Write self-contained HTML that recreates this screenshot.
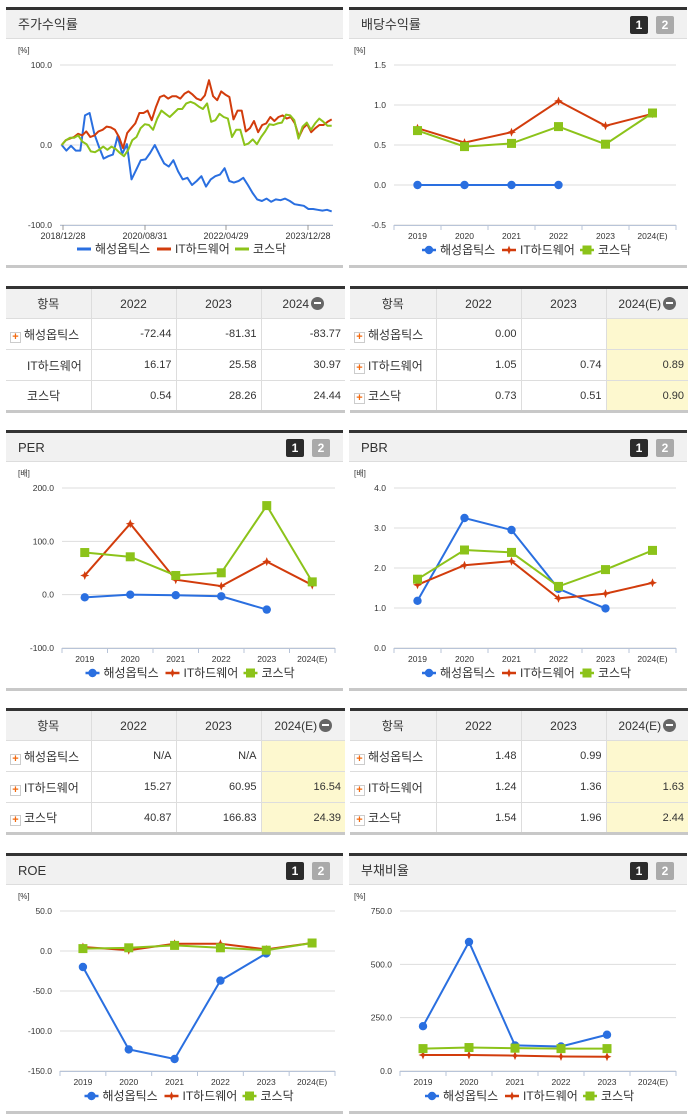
<!DOCTYPE html>
<html><head><meta charset="utf-8">
<style>
*{margin:0;padding:0;box-sizing:border-box}
body{width:691px;height:1115px;background:#fff;position:relative;font-family:"Liberation Sans","Noto Sans CJK KR",sans-serif;color:#333;overflow:hidden}
.panel{position:absolute;border-top:3px solid #333;border-bottom:3px solid #c8c8c8}
.phead{height:29px;background:#f1f1f1;border-bottom:1px solid #ddd;font-size:13px;line-height:29px;padding-left:12px;position:relative}
.btn{position:absolute;top:6px;width:18px;height:18px;font-size:12px;font-weight:bold;color:#fff;text-align:center;line-height:18px;border-radius:2px}
.b1{background:#2b2b2b}.b2{background:#aaa}
table{position:absolute;border-collapse:collapse;border-top:3px solid #333;border-bottom:3px solid #c8c8c8;font-size:11px;table-layout:fixed}
td,th{height:31px;border-bottom:1px solid #ddd;border-left:1px solid #ddd;font-weight:normal}
th{background:#f1f1f1;font-size:12px;text-align:center}
td{text-align:right;padding-right:4px}
td:first-child,th:first-child{border-left:none}
td.nm{text-align:left;padding-left:4px;font-size:12px}
td.hl{background:#fdf8cf}
.plus{display:inline-block;width:11px;height:11px;border:1px solid #ccc;background:#fff;color:#f26a10;font-size:11px;line-height:9px;text-align:center;font-weight:bold;margin-right:3px;vertical-align:-1px}
.sp{display:inline-block;width:17px}
.minus{display:inline-block;width:13px;height:13px;border-radius:50%;background:#666;vertical-align:-2px;position:relative;margin-left:2px}
.minus:after{content:"";position:absolute;left:3px;top:5px;width:7px;height:2px;background:#fff}
svg{position:absolute;left:0;top:0}
</style></head><body>

<div class="panel" style="left:6px;top:7px;width:337px;height:261px"><div class="phead">주가수익률</div></div>
<div class="panel" style="left:349px;top:7px;width:338px;height:261px"><div class="phead">배당수익률<span class="btn b1" style="left:281px">1</span><span class="btn b2" style="left:307px">2</span></div></div>

<div class="panel" style="left:6px;top:430px;width:337px;height:261px"><div class="phead">PER<span class="btn b1" style="left:280px">1</span><span class="btn b2" style="left:306px">2</span></div></div>
<div class="panel" style="left:349px;top:430px;width:338px;height:261px"><div class="phead">PBR<span class="btn b1" style="left:281px">1</span><span class="btn b2" style="left:307px">2</span></div></div>

<div class="panel" style="left:6px;top:853px;width:337px;height:261px"><div class="phead">ROE<span class="btn b1" style="left:280px">1</span><span class="btn b2" style="left:306px">2</span></div></div>
<div class="panel" style="left:349px;top:853px;width:338px;height:261px"><div class="phead">부채비율<span class="btn b1" style="left:281px">1</span><span class="btn b2" style="left:307px">2</span></div></div>

<table style="left:6px;top:286px;width:339px">
<colgroup><col style="width:85px"><col style="width:85px"><col style="width:85px"><col style="width:84px"></colgroup>
<tr><th>항목</th><th>2022</th><th>2023</th><th>2024<span class="minus"></span></th></tr>
<tr><td class="nm"><span class="plus">+</span>해성옵틱스</td><td>-72.44</td><td>-81.31</td><td>-83.77</td></tr>
<tr><td class="nm"><span class="sp"></span>IT하드웨어</td><td>16.17</td><td>25.58</td><td>30.97</td></tr>
<tr><td class="nm"><span class="sp"></span>코스닥</td><td>0.54</td><td>28.26</td><td>24.44</td></tr>
</table>
<table style="left:350px;top:286px;width:338px">
<colgroup><col style="width:86px"><col style="width:85px"><col style="width:85px"><col style="width:82px"></colgroup>
<tr><th>항목</th><th>2022</th><th>2023</th><th>2024(E)<span class="minus"></span></th></tr>
<tr><td class="nm"><span class="plus">+</span>해성옵틱스</td><td>0.00</td><td></td><td class="hl"></td></tr>
<tr><td class="nm"><span class="plus">+</span>IT하드웨어</td><td>1.05</td><td>0.74</td><td class="hl">0.89</td></tr>
<tr><td class="nm"><span class="plus">+</span>코스닥</td><td>0.73</td><td>0.51</td><td class="hl">0.90</td></tr>
</table>

<table style="left:6px;top:708px;width:339px">
<colgroup><col style="width:85px"><col style="width:85px"><col style="width:85px"><col style="width:84px"></colgroup>
<tr><th>항목</th><th>2022</th><th>2023</th><th>2024(E)<span class="minus"></span></th></tr>
<tr><td class="nm"><span class="plus">+</span>해성옵틱스</td><td>N/A</td><td>N/A</td><td class="hl"></td></tr>
<tr><td class="nm"><span class="plus">+</span>IT하드웨어</td><td>15.27</td><td>60.95</td><td class="hl">16.54</td></tr>
<tr><td class="nm"><span class="plus">+</span>코스닥</td><td>40.87</td><td>166.83</td><td class="hl">24.39</td></tr>
</table>
<table style="left:350px;top:708px;width:338px">
<colgroup><col style="width:86px"><col style="width:85px"><col style="width:85px"><col style="width:82px"></colgroup>
<tr><th>항목</th><th>2022</th><th>2023</th><th>2024(E)<span class="minus"></span></th></tr>
<tr><td class="nm"><span class="plus">+</span>해성옵틱스</td><td>1.48</td><td>0.99</td><td class="hl"></td></tr>
<tr><td class="nm"><span class="plus">+</span>IT하드웨어</td><td>1.24</td><td>1.36</td><td class="hl">1.63</td></tr>
<tr><td class="nm"><span class="plus">+</span>코스닥</td><td>1.54</td><td>1.96</td><td class="hl">2.44</td></tr>
</table>

<svg id="chart" width="691" height="1115"></svg>

<script>
// ---------- data ----------
const seriesNames = ["해성옵틱스","IT하드웨어","코스닥"];
const stockDates = ["2018/12/28","2020/08/31","2022/04/29","2023/12/28"];
const stockBlue = [0,-7,-1,-7,-7,37,40,14,-2,-17,-14,-12,11,-11,1,-43,-31,-19,-18,-10,0,-12,-23,-27,-19,-33,-43,-41,-50,-45,-39,-52,-43,-39,-37,-29,-45,-47,-45,-41,-50,-60,-68,-70,-67,-71,-68,-69,-67,-70,-74,-75,-76,-80,-80,-81,-82,-81,-83];
const stockRed = [0,6,8,10,14,12,17,10,12,17,19,23,22,19,10,-4,15,21,27,40,40,43,31,47,60,62,58,61,61,58,64,67,63,58,56,62,81,61,56,67,63,60,32,43,43,17,21,30,16,25,27,35,30,35,37,33,35,27,10,21,26,16,21,25,25,29,32];
const stockGreen = [0,6,9,9,12,4,1,-8,-9,-6,-2,-6,-2,-5,-10,-14,-6,6,10,21,26,25,19,33,43,39,35,40,45,45,52,54,52,48,45,52,29,31,39,35,33,10,19,19,0,2,7,1,10,17,26,25,27,28,38,37,31,8,23,28,19,27,33,29,24,24];
const stockTicks = ["100.0","0.0","-100.0"];

const years = ["2019","2020","2021","2022","2023","2024(E)"];
const divBlue = [0,0,0,0,null,null];
const divRed = [0.71,0.53,0.66,1.05,0.74,0.89];
const divGreen = [0.68,0.48,0.52,0.73,0.51,0.90];
const divTicks = ["1.5","1.0","0.5","0.0","-0.5"];

const perBlue = [-5,0,-1,-3,-28,null];
const perRed = [36,133,28,16,62,18];
const perGreen = [79,71,36,41,167,24];
const perTicks = ["200.0","100.0","0.0","-100.0"];

const pbrBlue = [1.18,3.25,2.95,1.48,0.99,null];
const pbrRed = [1.58,2.07,2.17,1.24,1.36,1.63];
const pbrGreen = [1.72,2.45,2.39,1.54,1.96,2.44];
const pbrTicks = ["4.0","3.0","2.0","1.0","0.0"];

const roeBlue = [-20,-123,-135,-37,-3,null];
const roeRed = [5,1,9,9,2,10];
const roeGreen = [3,4,7,4,1,10];
const roeTicks = ["50.0","0.0","-50.0","-100.0","-150.0"];

const debtBlue = [210,605,120,115,170,null];
const debtRed = [75,75,72,68,67,null];
const debtGreen = [105,110,107,105,105,null];
const debtTicks = ["750.0","500.0","250.0","0.0"];

const colors = ["#2a6fe0","#d23c0c","#8cc31a"];
// ---------- rendering ----------
const NS="http://www.w3.org/2000/svg";
const svg=document.getElementById('chart');
function mk(tag,attrs,parent){const e=document.createElementNS(NS,tag);for(const k in attrs)e.setAttribute(k,attrs[k]);(parent||svg).appendChild(e);return e;}
function txt(x,y,s,anchor,size,parent){const t=mk('text',{x:x,y:y,'text-anchor':anchor,'font-size':size,fill:'#333','font-family':'"Liberation Sans","Noto Sans CJK KR",sans-serif'},parent);t.textContent=s;return t;}

function frame(L){ // L: x0,x1,yTop,yBot,unit,ticks
  const g=mk('g',{});
  
  
  const u=txt(L.x0-44+ (L.ux||0),L.yTop-12,L.unit,'start',8,g);
  
  
  L.ticks.forEach((t,i)=>{
    const y=L.yTop+(L.yBot-L.yTop)*i/(L.ticks.length-1);
    const gl=mk('line',{x1:L.x0,x2:L.x1,y1:y,y2:y,stroke:'#ddd','stroke-width':1},g);
    
    
    const tl=txt(L.x0-8,y+3,t,'end',8.5,g);
    
    
  });
  const ax=mk('line',{x1:L.x0,x2:L.x1,y1:L.yBot+0.5,y2:L.yBot+0.5,stroke:'#b8c4d8','stroke-width':1},g);
  
  
  return g;
}
function legend(g,cx,y,markers){
  const widths=[80,78,52];let total=widths.reduce((a,b)=>a+b,0);let x=cx-total/2;
  seriesNames.forEach((n,i)=>{
    const lg=mk('g',{},g);
    
    
    if(markers){ mk('line',{x1:x,x2:x+14,y1:y-4,y2:y-4,stroke:colors[i],'stroke-width':2.5},lg); marker(lg,i,x+7,y-4);}
    else mk('line',{x1:x,x2:x+14,y1:y-4,y2:y-4,stroke:colors[i],'stroke-width':3},lg);
    txt(x+18,y,n,'start',12,lg);
    x+=widths[i];
  });
}
function marker(g,i,x,y){
  let m;
  if(i===0)m=mk('circle',{cx:x,cy:y,r:4.2,fill:colors[0]},g);
  else if(i===1)m=mk('path',{d:`M${x} ${y-4.5}L${x+1.3} ${y-1.3}L${x+4.5} ${y}L${x+1.3} ${y+1.3}L${x} ${y+4.5}L${x-1.3} ${y+1.3}L${x-4.5} ${y}L${x-1.3} ${y-1.3}Z`,fill:colors[1]},g);
  else m=mk('rect',{x:x-4.5,y:y-4.5,width:9,height:9,fill:colors[2]},g);
  return m;
}
function catChart(L,cats,vmin,vmax,data){
  const g=frame(L);
  const bw=(L.x1-L.x0)/cats.length;
  const X=i=>L.x0+bw*(i+0.5);
  const Y=v=>L.yBot-(v-vmin)/(vmax-vmin)*(L.yBot-L.yTop);
  cats.forEach((c,i)=>{
    const tk=mk('line',{x1:L.x0+bw*i,x2:L.x0+bw*i,y1:L.yBot,y2:L.yBot+5,stroke:'#b8c4d8'},g);
    
    
    const tl=txt(X(i),L.yBot+14,c,'middle',8.5,g);
    
    
  });
  mk('line',{x1:L.x1,x2:L.x1,y1:L.yBot,y2:L.yBot+5,stroke:'#b8c4d8'},g);
  data.forEach((arr,si)=>{
    const pts=[];arr.forEach((v,i)=>{if(v!==null)pts.push([X(i),Y(v)]);});
    const p=mk('polyline',{points:pts.map(p=>p.join(',')).join(' '),fill:'none',stroke:colors[si],'stroke-width':2},g);
    
    
    pts.forEach(pt=>{
      const m=marker(g,si,pt[0],pt[1]);
      
      
    });
  });
  legend(g,(L.x0+L.x1)/2-8,L.yBot+29,true);
}
// Stock return time-series
(function(){
  const L={name:'stock-return-chart',x0:60,x1:333,yTop:65,yBot:225,unit:'[%]',ticks:stockTicks,ux:2};
  const g=frame(L);
  const Y=v=>L.yBot-(v+100)/200*(L.yBot-L.yTop);
  const xa=61.7,xb=331.7;
  const tickX=[63,145,226,308];
  stockDates.forEach((d,i)=>{
    mk('line',{x1:tickX[i],x2:tickX[i],y1:L.yBot,y2:L.yBot+5,stroke:'#999'},g);
    const t=txt(tickX[i],L.yBot+14,d,'middle',9,g);
    
    
  });
  [stockBlue,stockRed,stockGreen].forEach((arr,si)=>{
    const pts=arr.map((v,i)=>[(xa+(xb-xa)*i/(arr.length-1)).toFixed(1),Y(v).toFixed(1)].join(','));
    const p=mk('polyline',{points:pts.join(' '),fill:'none',stroke:colors[si],'stroke-width':2,'stroke-linejoin':'round'},g);
    
    
  });
  legend(g,182,253,false);
})();
catChart({name:'dividend-chart',x0:394,x1:676,yTop:65,yBot:225,unit:'[%]',ticks:divTicks,ux:4},years,-0.5,1.5,[divBlue,divRed,divGreen]);
catChart({name:'per-chart',x0:62,x1:335,yTop:488,yBot:648,unit:'[배]',ticks:perTicks},years,-100,200,[perBlue,perRed,perGreen]);
catChart({name:'pbr-chart',x0:394,x1:676,yTop:488,yBot:648,unit:'[배]',ticks:pbrTicks,ux:4},years,0,4,[pbrBlue,pbrRed,pbrGreen]);
catChart({name:'roe-chart',x0:60,x1:335,yTop:911,yBot:1071,unit:'[%]',ticks:roeTicks,ux:2},years,-150,50,[roeBlue,roeRed,roeGreen]);
catChart({name:'debt-chart',x0:400,x1:676,yTop:911,yBot:1071,unit:'[%]',ticks:debtTicks,ux:-2},years,0,750,[debtBlue,debtRed,debtGreen]);
</script>
</body></html>
